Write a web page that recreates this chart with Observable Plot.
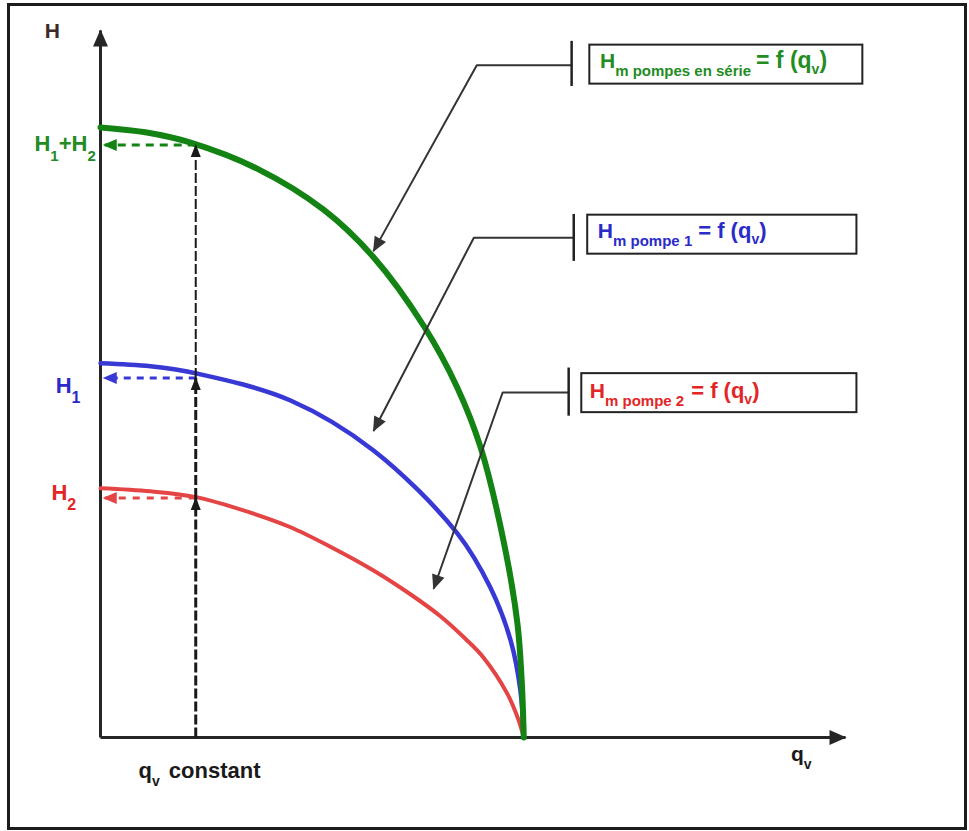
<!DOCTYPE html>
<html>
<head>
<meta charset="utf-8">
<script src="https://cdn.jsdelivr.net/npm/d3@7"></script>
<script src="https://cdn.jsdelivr.net/npm/@observablehq/plot@0.6"></script>
<style>
  html, body { margin: 0; padding: 0; background: #fff; }
  #fig { position: relative; width: 969px; height: 831px; overflow: hidden; background: #fff; }
  #fig svg { position: absolute; left: 0; top: 0; }
  #fig .frame { position: absolute; left: 7px; top: 3px; width: 960px; height: 827px;
                box-sizing: border-box; border: 3px solid #1c1c1c; pointer-events: none; }
</style>
</head>
<body>
<div id="fig"><div class="frame"></div></div>
<script>
// Courbes caractéristiques H = f(qv) : débit qv et hauteur manométrique H
const qvSerie  = [0, 1.06, 2.13, 3.71, 5.27, 6.45, 7.63, 8.43, 8.98, 9.52, 9.85, 9.95, 10];
const hSerie   = [10.01, 9.93, 9.76, 9.33, 8.66, 7.88, 6.76, 5.74, 4.76, 3.23, 1.87, 0.94, 0];
const qvPompe1 = [0, 1.18, 2.29, 4.49, 6.45, 8.43, 9.21, 9.69, 9.92, 10];
const hPompe1  = [6.14, 6.09, 5.97, 5.53, 4.71, 3.35, 2.46, 1.59, 0.77, 0];
const qvPompe2 = [0, 1.18, 2.29, 3.54, 4.49, 5.43, 6.45, 7.32, 8.03, 8.62, 9.05, 9.61, 9.87, 10];
const hPompe2  = [4.09, 4.04, 3.94, 3.69, 3.45, 3.13, 2.74, 2.35, 1.99, 1.62, 1.31, 0.72, 0.30, 0];

// Point de fonctionnement à débit constant : H1+H2, H1, H2
const qvConstant = 2.25;
const hConstant  = [9.72, 5.90, 3.93];

// Étendue des axes (qv, H)
const QV_MAX = 17.6;
const H_MAX  = 11.6;

// Repères des légendes encadrées, en unités (qv, H)
const legendBoxes = [
  {x1: 11.56, x2: 18.01, y1: 11.36, y2: 10.72},
  {x1: 11.51, x2: 17.87, y1: 8.57,  y2: 7.93},
  {x1: 11.37, x2: 17.87, y1: 5.97,  y2: 5.33}
];
const legendBars = [
  {x: 11.13, y1: 11.43, y2: 10.69},
  {x: 11.18, y1: 8.59,  y2: 7.82},
  {x: 11.06, y1: 6.07,  y2: 5.28}
];
const legendPointers = [
  [[11.13, 11.03], [8.89, 11.03], [6.45, 7.98]],
  [[11.18, 8.20],  [8.82, 8.20],  [6.45, 5.03]],
  [[11.06, 5.66],  [9.50, 5.66],  [7.87, 2.44]]
];

const GREEN = "#138313", BLUE = "#3838d4", RED = "#e44444";
const GREEN_TXT = "#238c23", BLUE_TXT = "#2b2bc9", RED_TXT = "#e22626";
const INK = "#262626";
const FONT = "'Liberation Sans', Arial, sans-serif";

// Pointe de flèche pleine (marqueur SVG)
function head(len, wid, ahead = 2) {
  return (color) => {
    const m = d3.create("svg:marker")
      .attr("viewBox", `${-len + ahead} ${-wid / 2} ${len} ${wid}`)
      .attr("markerWidth", len)
      .attr("markerHeight", wid)
      .attr("markerUnits", "userSpaceOnUse")
      .attr("refX", 0).attr("refY", 0)
      .attr("orient", "auto")
      .attr("overflow", "visible");
    m.append("path")
      .attr("d", `M${-len + ahead},${-wid / 2}L${ahead},0L${-len + ahead},${wid / 2}Z`)
      .attr("fill", color)
      .attr("stroke", "none");
    return m.node();
  };
}

// Texte avec indices : chaque morceau est placé après le précédent
const ctx = document.createElement("canvas").getContext("2d");
function measure(s, size) {
  ctx.font = `bold ${size}px ${FONT}`;
  return ctx.measureText(s).width;
}
function richLabel(parts, at, color) {
  let offset = 0;
  return parts.map(([s, size, dy = 0, gap = 0]) => {
    offset += gap;
    const m = Plot.text([s], {
      x: () => at[0], y: () => at[1], text: d => d,
      dx: offset, dy, fill: color, fontSize: size, fontWeight: "bold",
      fontFamily: FONT, textAnchor: "start", lineAnchor: "bottom"
    });
    offset += measure(s, size);
    return m;
  });
}

const curve = (hs, qs, color, w) =>
  Plot.line(hs, {x: (d, i) => qs[i], y: d => d, stroke: color, strokeWidth: w,
                 curve: "catmull-rom", strokeLinecap: "round"});

const levelColors = [GREEN, BLUE, RED];
const levelDash = ["8,6", "7,6", "7,7"];
const verticalSteps = [
  {y1: 0, y2: hConstant[2], w: 3},
  {y1: hConstant[2], y2: hConstant[1], w: 3},
  {y1: hConstant[1], y2: hConstant[0], w: 2}
];

const chart = Plot.plot({
  width: 969,
  height: 831,
  marginLeft: 100,
  marginRight: 124,
  marginTop: 30,
  marginBottom: 94,
  x: {domain: [0, QV_MAX], axis: null},
  y: {domain: [0, H_MAX], axis: null},
  style: {background: "transparent", overflow: "visible"},
  marks: [
    // axes fléchés
    Plot.link([{x1: 0, y1: 0, x2: QV_MAX, y2: 0}, {x1: 0, y1: 0, x2: 0, y2: H_MAX}], {
      x1: "x1", y1: "y1", x2: "x2", y2: "y2",
      stroke: INK, strokeWidth: 3, strokeLinecap: "butt", markerEnd: head(17, 15, 1)
    }),

    // courbes des pompes
    curve(hPompe2, qvPompe2, RED, 4),
    curve(hPompe1, qvPompe1, BLUE, 4.5),
    curve(hSerie, qvSerie, GREEN, 6),

    // lecture horizontale des hauteurs
    ...hConstant.map((h, i) => Plot.link([h], {
      x1: () => qvConstant, x2: () => 0.1, y1: d => d, y2: d => d,
      stroke: levelColors[i], strokeWidth: 3, strokeDasharray: levelDash[i],
      strokeLinecap: "butt", markerEnd: head(14, 12)
    })),

    // lecture verticale à débit constant
    ...verticalSteps.map(s => Plot.link([s], {
      x1: () => qvConstant, x2: () => qvConstant, y1: "y1", y2: "y2",
      stroke: "#1a1a1a", strokeWidth: s.w, strokeDasharray: "10,3",
      strokeLinecap: "butt", markerEnd: head(13, 10, 1)
    })),

    // renvois vers les légendes
    ...legendPointers.map(p => Plot.line(p, {
      x: d => d[0], y: d => d[1], stroke: "#333", strokeWidth: 2,
      strokeLinecap: "butt", strokeLinejoin: "miter", markerEnd: head(15, 13, 1)
    })),
    Plot.link(legendBars, {x1: "x", x2: "x", y1: "y1", y2: "y2", stroke: "#222", strokeWidth: 2.5}),
    Plot.rect(legendBoxes, {x1: "x1", x2: "x2", y1: "y1", y2: "y2", fill: "white", stroke: "#222", strokeWidth: 2}),

    // textes des légendes
    ...richLabel([["H", 21], ["m pompes en série", 15, 8], ["= f (q", 23, 0, 5], ["v", 14, 6], [")", 23]],
                 [11.80, 10.98], GREEN_TXT),
    ...richLabel([["H", 21], ["m pompe 1", 15, 8], ["= f (q", 22, 0, 6], ["v", 14, 6], [")", 22]],
                 [11.75, 8.20], BLUE_TXT),
    ...richLabel([["H", 21], ["m pompe 2", 15, 8], ["= f (q", 22, 0, 7], ["v", 14, 6], [")", 22]],
                 [11.56, 5.57], RED_TXT),

    // noms des axes et des hauteurs
    ...richLabel([["H", 21]], [-1.32, 11.48], "#3b2b2b"),
    ...richLabel([["H", 22], ["1", 15, 10], ["+", 22], ["H", 22], ["2", 15, 10]], [-1.56, 9.62], GREEN_TXT),
    ...richLabel([["H", 22], ["1", 16, 10]], [-1.06, 5.66], BLUE_TXT),
    ...richLabel([["H", 22], ["2", 16, 10]], [-1.16, 3.89], RED_TXT),
    ...richLabel([["q", 22], ["v", 14, 8], ["constant", 22, 0, 9]], [0.90, -0.66], "#1a1a1a"),
    ...richLabel([["q", 21], ["v", 14, 8]], [16.31, -0.38], "#1a1a1a")
  ]
});

const fig = document.getElementById("fig");
fig.insertBefore(chart, fig.firstChild);
</script>
</body>
</html>
